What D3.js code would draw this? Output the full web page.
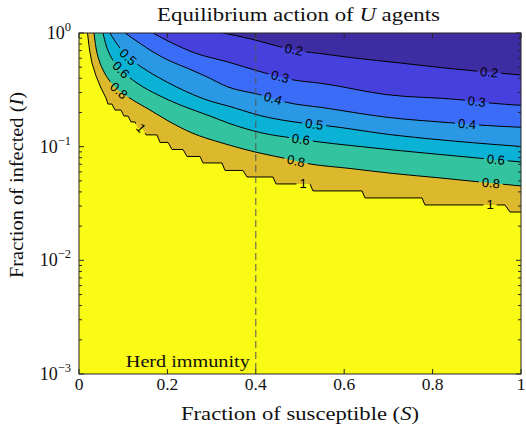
<html>
<head>
<meta charset="utf-8">
<script src="https://d3js.org/d3.v7.min.js"></script>
<style>
  body { margin: 0; background: #fff; }
  .serif { font-family: "Liberation Serif", "Times New Roman", serif; fill: #111; }
  .clab { font-family: "Liberation Sans", Arial, sans-serif; font-size: 13px; fill: #000; }
</style>
</head>
<body>
<svg width="526" height="427"></svg>
<script>
// contour lines, [S, I] pairs, left (top edge) to right
const line100 = [[0.0192,1],[0.0238,0.709],[0.0294,0.545],[0.0385,0.419],[0.0498,0.328],[0.0611,0.268],
  [0.0656,0.237],[0.0747,0.237],[0.0814,0.210],[0.0950,0.210],[0.1018,0.186],[0.1109,0.186],[0.1176,0.165],
  [0.1267,0.165],[0.1335,0.146],[0.1425,0.146],[0.1516,0.127],[0.1765,0.127],[0.1833,0.109],[0.2014,0.109],
  [0.2104,0.0945],[0.2353,0.0945],[0.2443,0.082],[0.2738,0.082],[0.2805,0.0719],[0.3235,0.0719],
  [0.3303,0.0618],[0.3710,0.0618],[0.3801,0.0541],[0.4389,0.0541],[0.4457,0.047],[0.5226,0.047],
  [0.5294,0.0408],[0.6403,0.0408],[0.6471,0.0354],[0.7760,0.0354],[0.7828,0.0307],[0.9638,0.0307],
  [0.9751,0.0266],[1,0.0266]];
const line080 = [[0.0339,1],[0.0385,0.738],[0.0452,0.579],[0.0543,0.473],[0.0679,0.386],[0.0882,0.315],
  [0.1109,0.2735],[0.1606,0.210],[0.2059,0.165],[0.2557,0.132],[0.3235,0.1078],[0.3982,0.0898],
  [0.4615,0.0796],[0.5158,0.0712],[0.6131,0.0643],[0.7104,0.0581],[0.8167,0.0531],[0.9072,0.0489],[1,0.0451]];
const line060 = [[0.0543,1],[0.0611,0.784],[0.0701,0.640],[0.0814,0.545],[0.0995,0.454],[0.1312,0.363],
  [0.1787,0.285],[0.2285,0.233],[0.2964,0.186],[0.3371,0.1616],[0.4140,0.132],[0.4819,0.1193],
  [0.5385,0.1107],[0.6131,0.1025],[0.7104,0.0935],[0.8167,0.0854],[0.9072,0.0791],[1,0.0733]];
const line050 = [[0.0701,1],[0.0814,0.850],[0.0928,0.738],[0.1109,0.615],[0.1448,0.492],[0.1946,0.378],
  [0.2443,0.303],[0.2964,0.252],[0.3371,0.228],[0.4140,0.186],[0.5045,0.1616],[0.5566,0.1536],
  [0.7104,0.1267],[0.8620,0.1107],[1,0.1004]];
const line040 = [[0.1041,1],[0.1335,0.833],[0.1674,0.681],[0.2059,0.567],[0.2443,0.492],[0.2851,0.419],
  [0.3371,0.335],[0.4095,0.2867],[0.4661,0.247],[0.5566,0.219],[0.6968,0.1814],[0.8462,0.1616],
  [0.9140,0.1542],[1,0.1481]];
const line030 = [[0.1674,1],[0.2059,0.833],[0.2624,0.667],[0.3371,0.556],[0.4027,0.466],[0.4819,0.388],
  [0.5498,0.360],[0.6968,0.2867],[0.8620,0.259],[0.9299,0.242],[1,0.231]];
const line020 = [[0.3258,1],[0.3643,0.932],[0.3982,0.868],[0.4321,0.800],[0.4661,0.738],[0.5068,0.688],
  [0.5452,0.660],[0.6131,0.609],[0.7262,0.545],[0.8394,0.487],[0.9072,0.459],[1,0.427]];

const levels = [1, 0.8, 0.6, 0.5, 0.4, 0.3, 0.2];
const contours = [line100, line080, line060, line050, line040, line030, line020];
// S where each level carries an inline label
const labelS = [[0.140, 0.507, 0.930], [0.090, 0.491, 0.932], [0.095, 0.502, 0.943],
  [0.111, 0.532], [0.439, 0.878], [0.455, 0.900], [0.486, 0.928]];
const xTicks = [0, 0.2, 0.4, 0.6, 0.8, 1];
const yExp = ["\u22123", "\u22122", "\u22121", "0"];
const herdS = 0.4;

// colours: below the 1 line, then the band above each level
const baseColor = "#f9fb15";
const bandColors = ["#dcb92c", "#34c39f", "#0ab2d6", "#2b98e6", "#3b6cf8", "#4641dd", "#3e2ca3"];

const svg = d3.select("svg");
const m = { l: 79, r: 521, t: 33, b: 374 };
const x = d3.scaleLinear().domain([0, 1]).range([m.l, m.r]);
const y = d3.scaleLog().domain([1e-3, 1]).range([m.b, m.t]);

const defs = svg.append("defs");
defs.append("clipPath").attr("id", "clip").append("rect")
  .attr("x", m.l).attr("y", m.t).attr("width", m.r - m.l).attr("height", m.b - m.t);

const plot = svg.append("g").attr("clip-path", "url(#clip)");
plot.append("rect")
  .attr("x", m.l).attr("y", m.t).attr("width", m.r - m.l).attr("height", m.b - m.t)
  .attr("fill", baseColor);

const lineGen = d3.line().x(d => x(d[0])).y(d => y(d[1]));
const curveFor = lv => lv === 1 ? d3.curveLinear : d3.curveMonotoneX;

levels.forEach((lv, i) => {
  plot.append("path")
    .attr("d", lineGen.curve(curveFor(lv))(contours[i]) + `L${x(1)},${y(1)}Z`)
    .attr("fill", bandColors[i]);
});

// label positions along the lines
function yAt(pts, px) {
  for (let k = 1; k < pts.length; k++) {
    if (px <= pts[k][0]) {
      const a = pts[k - 1], b = pts[k];
      const t = (px - a[0]) / ((b[0] - a[0]) || 1);
      return a[1] + t * (b[1] - a[1]);
    }
  }
  return pts[pts.length - 1][1];
}

const mask = defs.append("mask").attr("id", "lblmask")
  .attr("maskUnits", "userSpaceOnUse").attr("x", 0).attr("y", 0).attr("width", 526).attr("height", 427);
mask.append("rect").attr("width", 526).attr("height", 427).attr("fill", "#fff");

const lines = plot.append("g").attr("mask", "url(#lblmask)");
levels.forEach((lv, i) => {
  lines.append("path")
    .attr("d", lineGen.curve(curveFor(lv))(contours[i]))
    .attr("fill", "none").attr("stroke", "#000").attr("stroke-width", 1);
});

const labels = plot.append("g");
levels.forEach((lv, i) => {
  const pts = contours[i].map(d => [x(d[0]), y(d[1])]);
  labelS[i].forEach(s => {
    const px = x(s), py = yAt(pts, px);
    const ang = Math.atan2(yAt(pts, px + 6) - yAt(pts, px - 6), 12) * 180 / Math.PI;
    const t = labels.append("text").attr("class", "clab")
      .attr("text-anchor", "middle").attr("dominant-baseline", "central")
      .attr("transform", `translate(${px},${py}) rotate(${ang})`)
      .text(String(lv));
    const w = t.node().getComputedTextLength() + 6;
    mask.append("rect")
      .attr("x", -w / 2).attr("y", -6).attr("width", w).attr("height", 12)
      .attr("transform", `translate(${px},${py}) rotate(${ang})`)
      .attr("fill", "#000");
  });
});

// herd immunity threshold
plot.append("line")
  .attr("x1", x(herdS)).attr("x2", x(herdS)).attr("y1", m.t).attr("y2", m.b)
  .attr("stroke", "#555").attr("stroke-width", 1).attr("stroke-dasharray", "7,4");
svg.append("text").attr("class", "serif")
  .attr("x", x(herdS) - 6).attr("y", 367).attr("text-anchor", "end")
  .attr("font-size", 16).attr("textLength", 124).attr("lengthAdjust", "spacingAndGlyphs")
  .text("Herd immunity");

// frame and ticks
const axes = svg.append("g").attr("stroke", "#262626").attr("stroke-width", 1);
xTicks.forEach(t => {
  axes.append("line").attr("x1", x(t)).attr("x2", x(t)).attr("y1", m.b).attr("y2", m.b - 5);
  axes.append("line").attr("x1", x(t)).attr("x2", x(t)).attr("y1", m.t).attr("y2", m.t + 5);
});
y.ticks().forEach(t => {
  const major = Math.abs(Math.log10(t) - Math.round(Math.log10(t))) < 1e-6;
  const len = major ? 5 : 3;
  axes.append("line").attr("x1", m.l).attr("x2", m.l + len).attr("y1", y(t)).attr("y2", y(t));
  axes.append("line").attr("x1", m.r).attr("x2", m.r - len).attr("y1", y(t)).attr("y2", y(t));
});
axes.append("rect").attr("x", m.l).attr("y", m.t)
  .attr("width", m.r - m.l).attr("height", m.b - m.t).attr("fill", "none");

// tick labels
svg.append("g").selectAll("text").data(xTicks).join("text")
  .attr("class", "serif").attr("font-size", 17.5).attr("text-anchor", "middle")
  .attr("x", d => x(d)).attr("y", 390).text(d => String(d));

const yLab = svg.append("g").selectAll("text").data(y.ticks().filter(t => {
  const l = Math.log10(t); return Math.abs(l - Math.round(l)) < 1e-6;
})).join("text")
  .attr("class", "serif").attr("font-size", 18).attr("text-anchor", "end")
  .attr("x", 71).attr("y", d => y(d) + 6);
yLab.append("tspan").text("10");
yLab.append("tspan").attr("font-size", 12.5).attr("dy", -8)
  .text(d => yExp[Math.round(Math.log10(d)) + 3]);

// axis titles
svg.append("text").attr("class", "serif").attr("font-size", 18.5).attr("text-anchor", "middle")
  .attr("x", (m.l + m.r) / 2).attr("y", 420)
  .attr("textLength", 238).attr("lengthAdjust", "spacingAndGlyphs")
  .html('Fraction of susceptible (<tspan font-style="italic">S</tspan>)');
svg.append("text").attr("class", "serif").attr("font-size", 18.5).attr("text-anchor", "middle")
  .attr("transform", "translate(23,185) rotate(-90)")
  .attr("textLength", 186).attr("lengthAdjust", "spacingAndGlyphs")
  .html('Fraction of infected (<tspan font-style="italic">I</tspan>)');
svg.append("text").attr("class", "serif").attr("font-size", 18.5).attr("text-anchor", "middle")
  .attr("x", 298.5).attr("y", 21)
  .attr("textLength", 283).attr("lengthAdjust", "spacingAndGlyphs")
  .html('Equilibrium action of <tspan font-style="italic">U</tspan> agents');
</script>
</body>
</html>
